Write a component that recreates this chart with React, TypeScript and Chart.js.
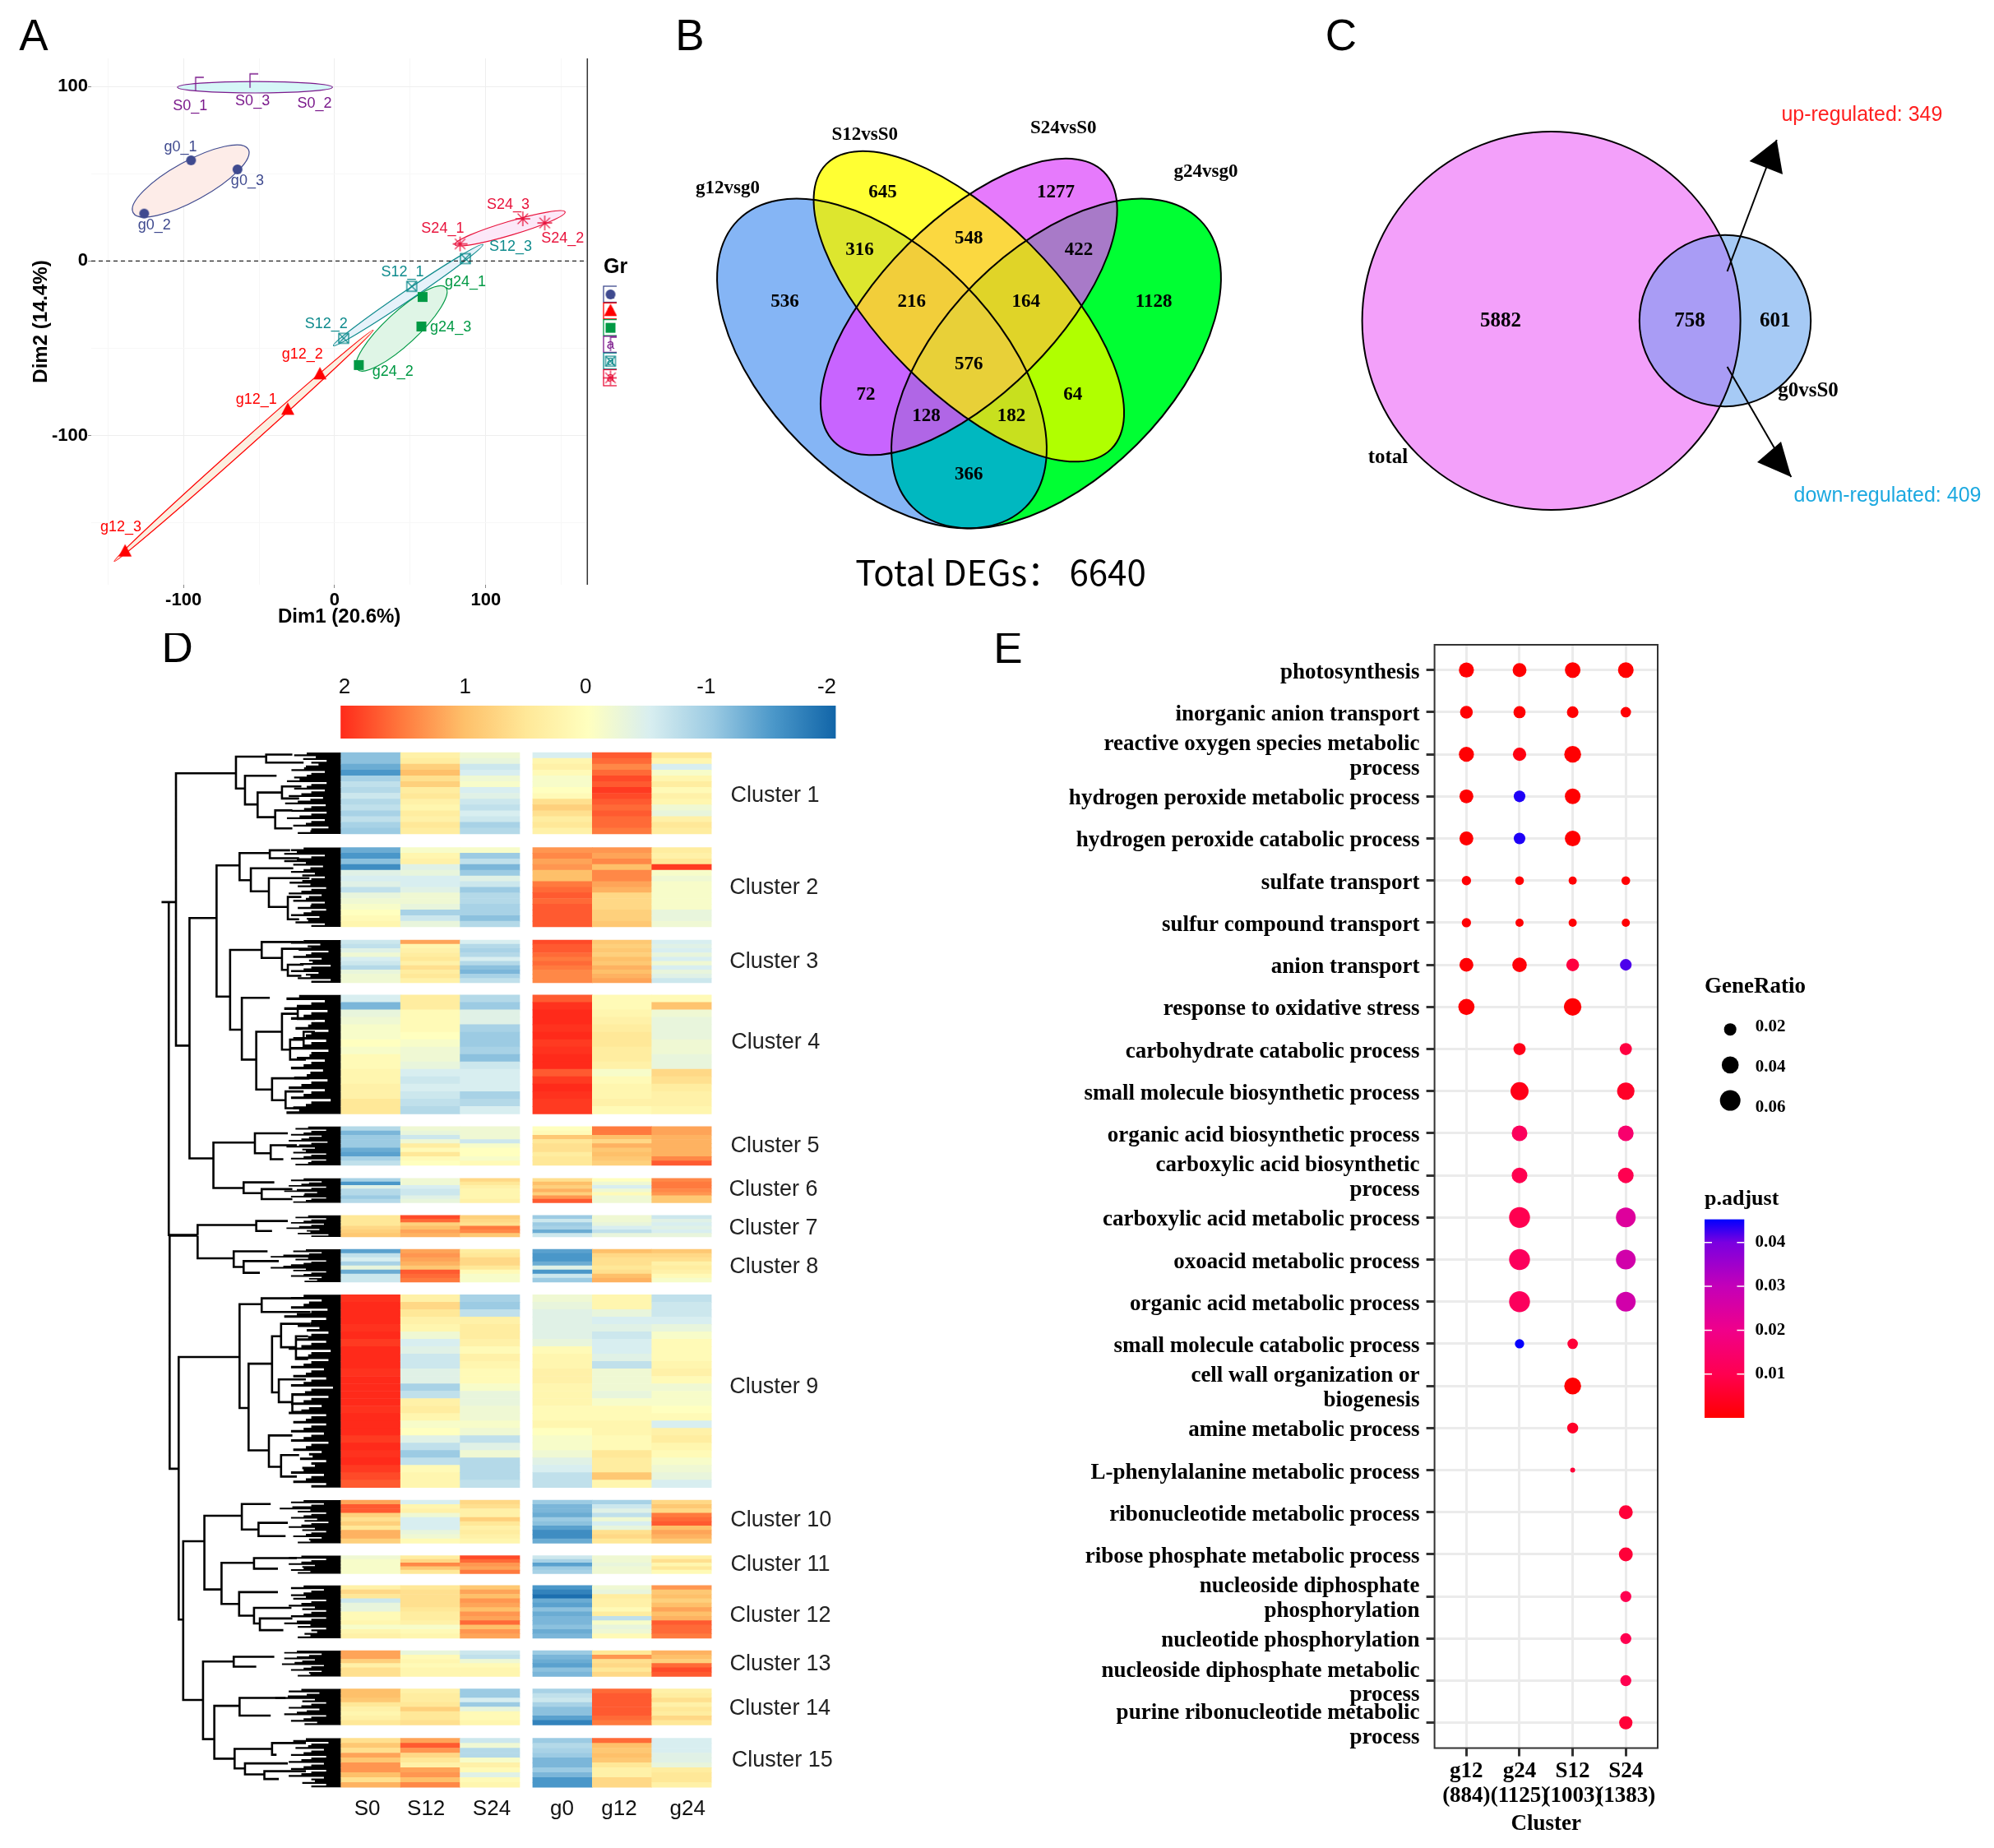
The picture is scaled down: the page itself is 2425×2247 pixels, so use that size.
import React, { useEffect, useRef } from 'react';
import { Chart, registerables } from 'chart.js';
Chart.register(...registerables);

const SANS = '"Liberation Sans"';
const SERIF = '"Liberation Serif"';

/* ---------- Panel A: PCA ---------- */
const g0Points = [[-95, 57.7], [-126, 27.2], [-64.3, 52.5]];
const g12Points = [[-31, -85.3], [-9.7, -65], [-138.6, -166.5]];
const g24Points = [[58.2, -20.6], [16, -59.6], [57.4, -37.5]];
const s0Points = [[-92, 101], [-8, 100], [-56, 103]];
const s12Points = [[51, -14.5], [6, -44.3], [86.5, 1.4]];
const s24Points = [[83, 9.8], [139, 21.8], [124.5, 24.2]];
const g0LabelAt = [[-102, 65.2], [-119.2, 20.2], [-57.7, 45.7]];
const g12LabelAt = [[-51.8, -79.3], [-21.3, -53.5], [-141.4, -152.4]];
const g24LabelAt = [[86.5, -12.2], [38.5, -63.3], [76.8, -38]];
const s0LabelAt = [[-95.6, 88.9], [-13.3, 90.3], [-54.3, 91.4]];
const s12LabelAt = [[44.9, -6.3], [-5.5, -35.9], [116.4, 8.2]];
const s24LabelAt = [[71.5, 18.5], [150.8, 12.9], [114.8, 32.4]];
const pcaGroupNames = ['g0', 'g12', 'g24', 'S0', 'S12', 'S24'];
const pcaPoints = [g0Points, g12Points, g24Points, s0Points, s12Points, s24Points];
const pcaLabelAt = [g0LabelAt, g12LabelAt, g24LabelAt, s0LabelAt, s12LabelAt, s24LabelAt];
const pcaColors = ['#3F4A8F', '#FF0000', '#009944', '#7B1A8C', '#0F8B8D', '#E8133C'];
const pcaFills = ['#FDECE8', '#FBEFE0', '#DFF5E6', '#D5F7F7', '#E6F2FA', '#FCE8F8'];
// ellipse: long-axis ends [x1,y1,x2,y2] in data units, and minor/major ratio
const pcaEllipseEnds = [
  [-133.3, 27.7, -57.1, 64], [-145.8, -172.1, 25.5, -39.6], [15, -62.1, 73.5, -15.2],
  [-104, 99.6, -1.4, 99.6], [-0.8, -48.5, 98.1, 9.4], [79.6, 9.4, 152.5, 28.1],
];
const pcaEllipseRatio = [0.3, 0.024, 0.27, 0.074, 0.055, 0.12];

/* ---------- Panels B and C: Venn ---------- */
const vennBShapes = [
  { cx: 1072.5, cy: 442, a: 247, b: 139, deg: 45 },
  { cx: 1178.3, cy: 372.6, a: 245, b: 106, deg: 45 },
  { cx: 1178.3, cy: 373, a: 232, b: 106, deg: -45 },
  { cx: 1284.5, cy: 442, a: 247, b: 139, deg: -45 },
];
const vennBRegionColors: Record<number, string> = {
  1: '#85B5F5', 2: '#FFFF33', 4: '#E67AFC', 8: '#00FF33', 3: '#DDE62E', 6: '#FBD840', 12: '#A87AC8',
  7: '#F2CE3A', 14: '#E0D428', 15: '#E8D038', 5: '#C864FF', 10: '#B0FF00', 13: '#B066E6', 11: '#C8E01E', 9: '#00B8C0',
};
const vennBCounts = ['536', '645', '1277', '1128', '316', '548', '422', '216', '164', '576', '72', '64', '128', '182', '366'];
const vennBCountX = [954.4, 1073.6, 1284, 1403.2, 1045.6, 1178.3, 1312, 1108.8, 1247.7, 1178.3, 1052.9, 1304.7, 1126.5, 1230, 1178.3];
const vennBCountY = [367, 234, 234, 367, 304, 290, 304, 367, 367, 443.5, 480, 480, 506.5, 506.5, 577];
const vennCShapes = [
  { cx: 1886.6, cy: 390, a: 230, b: 230, deg: 0 },
  { cx: 2098, cy: 390, a: 104.2, b: 104.2, deg: 0 },
];
const vennCRegionColors: Record<number, string> = { 1: '#F3A0FA', 2: '#A6CAF5', 3: '#A99CF5' };
const vennCCounts = ['5882', '758', '601'];
const vennCCountX = [1825, 2055, 2158.7];
const vennCCountY = [391, 391, 391];
const arrowShafts = [[2100.6, 330, 2160.8, 170], [2100.6, 446, 2178.4, 580]];
const arrowHeads = [[2160.8, 170, 2127.6, 196, 2168, 212], [2178.4, 580, 2137, 562, 2166, 537]];

/* ---------- Panel D: heatmap ---------- */
const heatColumns = ['S0', 'S12', 'S24', 'g0', 'g12', 'g24'];
const heatColumnX = [0.5, 1.5, 2.5, 3.72, 4.72, 5.72];
const heatColumnLabelX = [0.439, 1.428, 2.53, 3.71, 4.67, 5.82];
const clusterTop = [915, 1030.5, 1143, 1209.8, 1369.8, 1432.8, 1477.9, 1519, 1574.3, 1824, 1891.6, 1927.8, 2007, 2053.6, 2113.6];
const clusterBottom = [1014, 1127, 1194.8, 1354.3, 1416.8, 1462.4, 1504, 1559, 1808.7, 1876.4, 1913.5, 1992, 2038.4, 2097.4, 2173.2];
const clusterLabelX = [7.29, 7.27, 7.27, 7.30, 7.29, 7.26, 7.26, 7.27, 7.27, 7.39, 7.38, 7.38, 7.38, 7.37, 7.41];
const clusterLabelY = [967.5, 1080, 1169.6, 1268, 1394, 1446.4, 1493.4, 1540.5, 1687, 1849, 1902.6, 1964.5, 2024, 2078, 2141];
const heatS0 = [
  [-1.1, -1.1, -1.3, -1.5, -0.9, -0.7, -0.8, -0.6, -0.8, -0.7, -0.9, -0.7, -0.9, -1.0],
  [-1.3, -1.5, -1.1, -1.6, -0.4, -0.5, -0.4, -0.7, -0.3, -0.2, -0.1, 0, 0.1, 0.2],
  [-0.6, -0.7, -0.4, -0.2, -0.5, -0.6, -0.8, -0.3, -0.2, -0.2],
  [-0.5, -1.2, -0.3, -0.2, -0.1, -0.1, 0, -0.1, 0.1, 0.1, 0.2, 0.2, 0.3, 0.3, 0.5, 0.5],
  [-0.8, -1.2, -1, -1, -1, -1.3, -1.4, -0.9, -0.7],
  [-0.9, -1.5, -0.4, -0.8, -0.8, -1, -0.8],
  [0.5, 0.5, 0.5, 0.7, 0.8, 0.9],
  [-1.4, -0.7, -0.5, -0.9, -0.3, -1.3, -0.6, -0.6],
  [1.95, 2, 2, 2, 1.95, 2, 1.9, 2, 2, 2, 1.95, 2, 2, 2, 2, 1.95, 2, 2, 2, 1.9, 2, 1.95, 2, 1.9, 1.8, 1.7],
  [1.2, 1.7, 1.7, 0.8, 0.6, 0.8, 0.5, 1.1, 1.1, 0.8],
  [-0.2, -0.1, -0.1, -0.1, -0.1],
  [0.3, 0.7, 0.5, -0.6, -0.3, -0.3, 0.1, 0.1, 0.2, -0.1, 0.2, 0.3],
  [1.2, 1.2, 0.8, 0.3, 0.6, 0.6],
  [1, 1, 0.9, 0.5, 0.3, 0.2, 0.3, 0.5],
  [0.6, 0.9, 0.6, 1.2, 0.9, 1.3, 1.3, 1.0, 0.6, 1.1],
];
const heatS12 = [
  [0.3, 0.4, 0.8, 1.0, 0.6, 0.8, 0.4, 0.5, 0.3, 0.2, 0.4, 0.3, 0.5, 0.4],
  [-0.1, 0.2, 0.3, -0.4, -0.3, -0.5, -0.5, -0.4, -0.2, -0.2, -0.3, -0.9, -0.6, -0.3],
  [1.2, 0.2, 0.3, 0.4, 0.5, 0.3, 0.6, 0.4, 0.5, 0.3],
  [0.4, 0.4, 0.1, 0.1, 0.1, 0, -0.1, -0.2, -0.2, -0.3, -0.5, -0.6, -0.5, -0.6, -0.7, -0.8],
  [-0.2, -0.3, -0.6, -0.2, 0.4, 0.1, 0.5, 0.1, 0],
  [-0.2, -0.2, -0.5, -0.6, -0.6, -0.4, -0.3],
  [1.8, 1.6, 0.8, 1.0, 1.2, 1.1],
  [1.2, 1.3, 1.2, 1.1, 0.9, 1.7, 1.6, 1.5],
  [0.3, 0.7, 0.5, 0.3, 0.2, -0.2, -0.5, -0.4, -0.6, -0.6, -0.4, -0.4, -0.9, -0.7, 0.3, 0.4, 0.2, -0.1, 0, -0.4, -0.7, -1, -0.7, 0.1, 0.2, 0.2],
  [-0.5, 0.2, 0.3, -0.2, -0.5, -0.5, -0.5, -0.3, -0.2, 0.1],
  [0.4, 0.7, 1.4, 0.9, 0.5],
  [0.5, 0.6, 0.6, 0.6, 0.6, 0.5, 0.4, 0.4, 0.3, -0.1, 0.1, 0.2],
  [-0.3, 0.1, 0.2, 0.1, 0.2, 0.2],
  [0.3, 0.4, 0.4, 0.5, 0.8, 0.5, 0.5, 0.6],
  [1.2, 1.7, 1.3, 0.7, 0.5, 0.3, 1.2, 1.3, 1, 1.4],
];
const heatS24 = [
  [-0.2, -0.3, -0.6, -0.5, -0.2, -0.1, -0.5, -0.4, -0.6, -0.7, -0.5, -0.6, -0.9, -0.8],
  [-0.1, -1, -0.7, -1.2, -1, -0.4, -0.6, -1, -0.8, -0.8, -0.9, -0.9, -1.1, -0.8],
  [-0.5, -0.8, -0.9, -0.8, -0.5, -0.8, -1.1, -1.2, -0.9, -0.7],
  [-0.8, -1, -0.4, -0.4, -0.9, -1, -1, -0.9, -1.1, -0.6, -0.5, -0.5, -0.5, -0.9, -0.8, -0.5],
  [-0.2, -0.2, -0.2, -0.6, -0.1, 0, 0, -0.1, 0.1],
  [0.7, 0.5, 0.3, 0.2, 0.2, 0.2, 0.3],
  [0.8, 0.7, 0.6, 1.5, 1.4, 0.9],
  [0.4, 0.5, 0.7, 0.7, 0.5, 0.1, -0.1, -0.1],
  [-0.9, -1, -0.7, 0.3, 0.4, 0.4, 0.3, 0.1, 0.3, 0.2, 0.1, 0.1, -0.1, -0.3, -0.3, -0.2, -0.2, -0.1, -0.2, -0.7, -0.4, -0.2, -0.8, -0.8, -0.8, -0.7],
  [0.7, 0.6, 0.3, 0.3, 0.8, 0.5, 0.3, 0.4, 0.3, 0.2],
  [1.8, 1.6, 1.3, 1.2, 1.5],
  [0.9, 1.2, 1, 1.3, 1.2, 1.0, 1.3, 1.2, 1.6, 1, 1.3, 1.2],
  [-0.6, -0.7, -0.2, 0.1, 0.2, 0.2],
  [-1, -1, -0.5, -1, -0.3, 0.1, 0.1, 0.2],
  [-0.6, -0.2, -0.8, -0.8, -0.1, 0.3, 0.1, -0.4, 0.1, 0.2],
];
const heatG0 = [
  [-0.5, 0.2, 0.3, 0.1, -0.1, -0.1, 0.0, 0.1, 0.6, 0.8, 0.6, 0.4, 0.5, 0.3],
  [1.3, 1.4, 1.2, 1.3, 1, 1, 1.5, 1.6, 1.7, 1.6, 1.7, 1.7, 1.7, 1.7],
  [1.8, 1.7, 1.7, 1.6, 1.5, 1.6, 1.5, 1.4, 1.4, 1.4],
  [1.7, 1.95, 2, 2, 1.95, 2, 1.9, 1.95, 2, 2, 1.7, 1.9, 2, 1.95, 1.9, 1.9],
  [0, 0.1, 0.9, 0.5, 0.6, 0.6, 0.4, 0.5, 0.5],
  [0.6, 1, 0.8, 1.1, 0.8, 1.3, 1.7],
  [-1, -0.6, -1, -0.9, -1.3, -0.6],
  [-1.4, -1.5, -1.5, -1.3, -0.4, -1.5, -0.6, -1],
  [-0.2, -0.3, -0.4, -0.4, -0.4, -0.4, -0.3, 0.1, 0.2, 0.2, 0.3, 0.3, 0.2, 0.2, 0.2, 0.1, 0.1, 0.2, 0, -0.1, -0.1, -0.2, -0.4, -0.5, -0.7, -0.7],
  [-1, -1.2, -1.2, -1.3, -1, -1.1, -1.4, -1.6, -1.6, -1.3],
  [-0.6, -0.9, -1.4, -1, -0.9],
  [-1.5, -1.7, -1.9, -1.3, -1.4, -1.1, -1.3, -1.2, -1.2, -1.1, -1.3, -1.2],
  [-1, -1.2, -1.3, -1.4, -1.1, -1.2],
  [-0.9, -0.7, -0.6, -0.9, -1.1, -1.1, -1.4, -1.7],
  [-1, -0.8, -0.9, -1, -1.2, -1.2, -1, -1.2, -1.5, -1.5],
];
const heatG12 = [
  [1.7, 1.6, 1.4, 1.6, 1.8, 1.7, 1.9, 1.8, 1.7, 1.6, 1.7, 1.6, 1.6, 1.5],
  [1.3, 1.2, 1.4, 1, 1.4, 1.4, 1.2, 1.1, 0.7, 0.7, 0.7, 0.8, 0.8, 0.9],
  [0.9, 0.8, 0.9, 0.8, 1.0, 0.9, 1.1, 1, 1.1, 1.2],
  [0.1, 0.1, 0.2, 0.3, 0.4, 0.5, 0.5, 0.4, 0.4, 0.3, -0.1, 0.1, 0.2, 0.2, 0.3, 0.1],
  [1.5, 1.5, 1, 0.7, 1.1, 0.9, 1, 0.9, 0.8],
  [0, -0.2, -0.5, -0.2, 0.1, -0.2, -0.2],
  [-0.2, -0.2, -0.3, -0.5, -0.7, -0.3],
  [1.0, 0.7, 0.6, 0.6, 0.5, 0.6, 1, 1.1],
  [0.2, 0.2, -0.3, -0.5, -0.4, -0.6, -0.5, -0.5, -0.4, -0.7, -0.2, -0.2, -0.2, -0.3, -0.1, 0.1, 0.1, 0.2, 0.2, 0.1, 0.1, 0.5, 0.4, 0.4, 0.9, 0.2],
  [-0.9, -0.6, -0.4, -0.7, -0.2, -0.5, -0.3, 0.6, 0.7, 0.5],
  [-0.2, -0.2, -0.3, -0.2, -0.2],
  [-0.2, -0.3, 0.4, 0.3, 0.3, 0.1, 0.4, -0.7, -0.1, -0.3, -0.2, 0.1],
  [0.5, 1.3, 0.6, 0.7, 0.5, 0.7],
  [1.6, 1.7, 1.7, 1.7, 1.7, 1.7, 1.6, 1.5],
  [1.6, 1, 0.9, 1.0, 0.9, 0.5, 0.3, 0.3, 0.7, 0.7],
];
const heatG24 = [
  [0.5, 0.2, -0.5, -0.1, 0.2, 0.4, 0.1, 0.3, 0.2, -0.2, -0.3, 0.3, 0.5, 0.4],
  [0.4, 0.3, 0.5, 1.9, -0.1, -0.2, -0.1, -0.1, -0.1, -0.1, -0.1, -0.3, -0.3, -0.2],
  [-0.5, -0.4, -0.5, -0.3, -0.5, -0.2, -0.5, -0.3, -0.4, -0.6],
  [0.1, 0.95, -0.2, -0.3, -0.3, -0.3, -0.2, -0.2, -0.3, -0.3, 0.7, 0.6, 0.4, 0.3, 0.3, 0.2],
  [1.2, 1.2, 1.1, 1.1, 1.1, 1.1, 1.1, 1.4, 1.7],
  [1.4, 1.5, 1.5, 1.4, 1.3, 0.9, 0.9],
  [-0.6, -0.4, -0.5, -0.4, -0.5, -0.3],
  [0.9, 0.7, 0.6, 0.3, 0.4, 0.3, 0.1, -0.1],
  [-0.7, -0.6, -0.6, -0.5, -0.3, -0.1, 0.1, 0.1, 0.1, 0.2, 0.3, 0.1, -0.2, -0.1, -0.1, 0, 0.1, -0.5, 0.3, 0.4, 0.2, 0.1, -0.1, -0.2, -0.3, -0.5],
  [0.7, 0.9, 0.7, 1.5, 1.6, 1.7, 1, 1.2, 1.1, 0.9],
  [0.3, 0.6, 0.2, 0.5, 0.1],
  [1.3, 0.9, 1, 0.8, 1, 1.2, 1, 1.1, 1.7, 1.6, 1.6, 1.5],
  [1.1, 1, 0.8, 1.6, 1.8, 1.7],
  [0.3, 0.4, 0.6, 0.3, 0.5, 0.4, 0.7, 0.5],
  [-0.5, -0.5, -0.5, -0.4, -0.4, -0.3, 0.4, 0.5, 0.5, 0.3],
];
const heatTable = [heatS0, heatS12, heatS24, heatG0, heatG12, heatG24];
const zStops: [number, string][] = [
  [-2, '#1165A8'], [-1.5, '#4A97C9'], [-1, '#9CCBE3'], [-0.5, '#D8EEF0'], [0, '#FFFFBF'],
  [0.5, '#FFE898'], [1, '#FEC06A'], [1.5, '#FF7A3E'], [2, '#FF2A1A'],
];
// dendrogram brackets [nodeHeight, y1, childHeight1, y2, childHeight2]
const dendroUpper = [
  [62, 372, 195, 1055, 92], [92, 735, 152, 1338, 145], [152, 603, 203, 932, 182], [182, 815, 252, 1015, 208], [145, 1298, 237, 1412, 212],
  [195, 330, 262, 410, 215], [215, 378, 285, 450, 243], [243, 420, 297, 482, 282], [282, 465, 320, 510, 320], [262, 325, 320, 345, 345], [297, 405, 340, 435, 335],
  [203, 572, 270, 640, 228], [228, 610, 322, 668, 268], [268, 635, 358, 707, 310], [310, 682, 340, 738, 335], [270, 565, 315, 585, 335],
  [252, 795, 345, 835, 297], [297, 812, 365, 865, 310], [310, 852, 345, 880, 340],
  [208, 935, 270, 1090, 240], [240, 1020, 297, 1165, 275], [297, 975, 332, 1065, 315], [332, 960, 370, 988, 370], [315, 1040, 345, 1090, 350], [345, 1020, 370, 1060, 375], [275, 1137, 358, 1192, 305], [305, 1170, 345, 1212, 335],
  [237, 1275, 310, 1325, 272], [272, 1305, 330, 1340, 300],
  [212, 1398, 280, 1425, 252], [252, 1415, 320, 1440, 320],
  [240, 1495, 310, 1520, 275],
];
const dendroLower = [
  [110, 5, 110, 63, 190], [48, 5, 110, 600, 68], [68, 315, 203, 985, 78], [78, 785, 125, 1190, 122], [125, 720, 208, 908, 163], [163, 840, 235, 945, 202], [122, 1092, 190, 1290, 147], [147, 1205, 203, 1340, 192],
  [190, 45, 265, 85, 212], [212, 70, 290, 100, 248],
  [203, 180, 252, 445, 223], [252, 165, 325, 200, 360], [223, 332, 275, 553, 268], [275, 262, 295, 405, 290], [295, 230, 360, 290, 328], [328, 262, 355, 320, 355], [290, 372, 350, 430, 320], [320, 410, 375, 455, 345], [268, 515, 320, 595, 295], [295, 565, 335, 620, 330],
  [208, 690, 272, 755, 245], [245, 738, 310, 772, 305],
  [235, 828, 330, 855, 288],
  [202, 915, 288, 975, 235], [235, 955, 318, 995, 248], [248, 982, 320, 1012, 300],
  [190, 1080, 280, 1105, 240],
  [203, 1185, 305, 1230, 272],
  [192, 1315, 275, 1365, 215], [275, 1300, 350, 1330, 285], [215, 1352, 310, 1380, 258], [258, 1372, 350, 1392, 290],
];
const dendroRoot = [[46, 695, 62, 1530, 110], [110, 1505, 240, 1530, 110]];
const dendroRootStub = [[30, 695, 46]];
// heights where the leaf mass begins, row by row, cluster by cluster
const leafEdges = [
  [352, 372, 396, 378, 346, 392, 352, 336, 396, 352, 392, 340, 388, 332, 394, 346, 396, 336, 392, 350, 400, 360],
  [345, 330, 392, 330, 350, 388, 345, 370, 392, 342, 360, 395, 340, 385, 350, 392, 360, 395, 345, 380, 355, 392],
  [345, 382, 362, 400, 350, 385, 365, 405, 345, 378, 360, 405],
  [335, 392, 330, 398, 345, 392, 355, 400, 350, 395, 345, 400, 358, 392, 345, 388, 352, 398, 340, 392, 345, 405, 350, 335],
  [355, 395, 345, 385, 340, 398, 335, 370, 350, 395, 345, 395, 355],
  [345, 385, 340, 395, 330, 375, 345, 395, 350],
  [355, 395, 345, 390, 335, 380, 360, 400],
  [350, 385, 300, 355, 395, 345, 300, 350, 395, 345, 385, 375],
  [345, 385, 345, 398, 330, 395, 360, 380, 400, 355, 395, 340, 405, 355, 400, 345, 390, 350, 395, 345, 410, 348, 400, 345, 385, 340, 395, 350, 395, 345, 390, 345, 400, 350, 385, 365, 395, 370, 345, 390, 350, 395],
  [345, 390, 320, 360, 395, 345, 375, 400, 340, 370, 395, 350, 385, 360],
  [340, 395, 340, 370, 345, 360],
  [345, 390, 345, 350, 395, 340, 370, 395, 345, 395, 330, 360, 395, 375, 360],
  [330, 385, 330, 370, 325, 390, 345, 385, 360],
  [340, 380, 310, 370, 395, 340, 380, 330, 395, 345, 375],
  [350, 400, 355, 390, 345, 395, 340, 390, 345, 395, 340, 390, 370, 395],
];

/* ---------- Panel E: dot plot ---------- */
const goTerms: (string | string[])[] = [
  'photosynthesis', 'inorganic anion transport', ['reactive oxygen species metabolic', 'process'],
  'hydrogen peroxide metabolic process', 'hydrogen peroxide catabolic process', 'sulfate transport',
  'sulfur compound transport', 'anion transport', 'response to oxidative stress', 'carbohydrate catabolic process',
  'small molecule biosynthetic process', 'organic acid biosynthetic process', ['carboxylic acid biosynthetic', 'process'],
  'carboxylic acid metabolic process', 'oxoacid metabolic process', 'organic acid metabolic process',
  'small molecule catabolic process', ['cell wall organization or', 'biogenesis'], 'amine metabolic process',
  'L-phenylalanine metabolic process', 'ribonucleotide metabolic process', 'ribose phosphate metabolic process',
  ['nucleoside diphosphate', 'phosphorylation'], 'nucleotide phosphorylation', ['nucleoside diphosphate metabolic', 'process'],
  ['purine ribonucleotide metabolic', 'process'],
];
const clusterTicks = [['g12', '(884)'], ['g24', '(1125)'], ['S12', '(1003)'], ['S24', '(1383)']];
const N = null;
const ratioG12 = [.031, .0215, .031, .026, .026, .0103, .0103, .026, .0363, N, N, N, N, N, N, N, N, N, N, N, N, N, N, N, N, N];
const ratioG24 = [.026, .0194, .0237, .0174, .0174, .0087, .0073, .0285, N, .0194, .0455, .0336, .0336, .062, .062, .062, .0103, N, N, N, N, N, N, N, N, N];
const ratioS12 = [.0336, .0174, .0395, .0336, .0336, .0073, .0073, .0215, .0424, N, N, N, N, N, N, N, .0136, .0395, .0155, .001, N, N, N, N, N, N];
const ratioS24 = [.0336, .0136, N, N, N, .0087, .0073, .0174, N, .0194, .0424, .0336, .0336, .055, .055, .055, N, N, N, N, .026, .026, .0155, .0155, .0155, .0237];
const padjG12 = [.0003, .0003, .0003, .0003, .0003, .0005, .0005, .0005, .0005, N, N, N, N, N, N, N, N, N, N, N, N, N, N, N, N, N];
const padjG24 = [.0003, .0003, .002, .044, .044, .0005, .0005, .001, N, .003, .003, .012, .01, .01, .012, .012, .045, N, N, N, N, N, N, N, N, N];
const padjS12 = [.0003, .0003, .0003, .0003, .0003, .0005, .0005, .008, .0005, N, N, N, N, N, N, N, .007, .0003, .005, .007, N, N, N, N, N, N];
const padjS24 = [.0003, .0005, N, N, N, .0005, .0005, .042, N, .008, .005, .015, .01, .024, .027, .027, N, N, N, N, .007, .007, .01, .01, .01, .007];
const ratioTable = [ratioG12, ratioG24, ratioS12, ratioS24];
const padjTable = [padjG12, padjG24, padjS12, padjS24];
const ratioLegend = [0.02, 0.04, 0.06];
const padjStops: [number, string][] = [
  [0, '#FF0000'], [0.01, '#FF0050'], [0.02, '#F0008A'], [0.03, '#C400B8'], [0.04, '#7A00E0'], [0.0453, '#0000FF'],
];

/* ---------- helpers ---------- */
const hexToRgb = (h: string) => [parseInt(h.slice(1, 3), 16), parseInt(h.slice(3, 5), 16), parseInt(h.slice(5, 7), 16)];
function rampColor(stops: [number, string][], v: number) {
  if (v <= stops[0][0]) return stops[0][1];
  for (let i = 1; i < stops.length; i++) {
    if (v <= stops[i][0]) {
      const t = (v - stops[i - 1][0]) / (stops[i][0] - stops[i - 1][0]);
      const a = hexToRgb(stops[i - 1][1]);
      const b = hexToRgb(stops[i][1]);
      return `rgb(${a.map((c, k) => Math.round(c + (b[k] - c) * t)).join(',')})`;
    }
  }
  return stops[stops.length - 1][1];
}
const ratioRadius = (r: number) => Math.sqrt(25 + 10000 * r) / 2;
const fixW = (w: number) => (s: any) => { s.width = w; s.paddingTop = 0; s.paddingBottom = 0; };
const fixH = (h: number) => (s: any) => { s.height = h; s.paddingLeft = 0; s.paddingRight = 0; };

type TextItem = { t: string; x: number; y: number; f: string; c?: string; a?: CanvasTextAlign };
function textPlugin(items: TextItem[], xId?: string, yId?: string, left = 0, top = 0) {
  return {
    id: 'pageText',
    afterDatasetsDraw(chart: any) {
      const ctx = chart.ctx;
      ctx.save();
      ctx.textBaseline = 'middle';
      for (const it of items) {
        const px = xId ? chart.scales[xId].getPixelForValue(it.x) : it.x - left;
        const py = yId ? chart.scales[yId].getPixelForValue(it.y) : it.y - top;
        ctx.font = it.f;
        ctx.fillStyle = it.c || '#000';
        ctx.textAlign = it.a || 'center';
        ctx.fillText(it.t, px, py);
      }
      ctx.restore();
    },
  };
}

function markerCanvas(group: string, color: string) {
  const c = document.createElement('canvas');
  c.width = 28; c.height = 28;
  const x = c.getContext('2d') as CanvasRenderingContext2D;
  x.translate(14, 14);
  x.fillStyle = color; x.strokeStyle = color; x.lineWidth = 1.3;
  if (group === 'g0') { x.beginPath(); x.arc(0, 0, 6, 0, Math.PI * 2); x.fill(); }
  if (group === 'g12') { x.beginPath(); x.moveTo(0, -9); x.lineTo(8, 6); x.lineTo(-8, 6); x.closePath(); x.fill(); }
  if (group === 'g24') { x.fillRect(-6, -6, 12, 12); }
  if (group === 'S0') { x.beginPath(); x.moveTo(0, 8); x.lineTo(0, -9); x.lineTo(10, -9); x.stroke(); }
  if (group === 'S12') {
    x.strokeRect(-6, -6, 12, 12);
    x.beginPath(); x.moveTo(-6, -6); x.lineTo(6, 6); x.moveTo(6, -6); x.lineTo(-6, 6); x.stroke();
  }
  if (group === 'S24') {
    x.beginPath();
    for (let i = 0; i < 4; i++) {
      const a = i * Math.PI / 4;
      x.moveTo(-9 * Math.cos(a), -9 * Math.sin(a)); x.lineTo(9 * Math.cos(a), 9 * Math.sin(a));
    }
    x.stroke();
  }
  return c;
}

function ChartBox({ left, top, width, height, make }: any) {
  const ref = useRef<HTMLCanvasElement>(null);
  useEffect(() => {
    const chart = new Chart(ref.current as any, make());
    return () => chart.destroy();
  }, []);
  return <canvas ref={ref} width={width} height={height} style={{ position: 'absolute', left, top, width, height }} />;
}
const base = { responsive: false, devicePixelRatio: 1, animation: false, events: [] as string[] };

/* ---------- Panel A ---------- */
function makePca() {
  const markers = pcaGroupNames.map((g, i) => markerCanvas(g, pcaColors[i]));
  const labels: TextItem[] = [];
  pcaGroupNames.forEach((g, i) => pcaLabelAt[i].forEach((p, k) => labels.push({
    t: `${g}_${k + 1}`, x: p[0], y: p[1], f: `18px ${SANS}`, c: pcaColors[i],
  })));
  const ellipses = {
    id: 'pcaEllipses',
    beforeDatasetsDraw(chart: any) {
      const { x, y } = chart.scales;
      const ctx = chart.ctx;
      pcaEllipseEnds.forEach((e, i) => {
        const x1 = x.getPixelForValue(e[0]), y1 = y.getPixelForValue(e[1]);
        const x2 = x.getPixelForValue(e[2]), y2 = y.getPixelForValue(e[3]);
        const major = Math.hypot(x2 - x1, y2 - y1) / 2;
        ctx.beginPath();
        ctx.ellipse((x1 + x2) / 2, (y1 + y2) / 2, major, major * pcaEllipseRatio[i], Math.atan2(y2 - y1, x2 - x1), 0, Math.PI * 2);
        ctx.fillStyle = pcaFills[i]; ctx.fill();
        ctx.strokeStyle = pcaColors[i]; ctx.lineWidth = 1.2; ctx.stroke();
      });
    },
  };
  const furniture = {
    id: 'pcaFurniture',
    afterDatasetsDraw(chart: any) {
      const ctx = chart.ctx; const a = chart.chartArea;
      ctx.save();
      ctx.strokeStyle = '#333'; ctx.lineWidth = 1.5;
      ctx.beginPath(); ctx.moveTo(a.right, a.top); ctx.lineTo(a.right, a.bottom); ctx.stroke();
      // clipped legend
      ctx.save();
      ctx.beginPath(); ctx.rect(725, 300, 39, 42); ctx.clip();
      ctx.font = `bold 25px ${SANS}`; ctx.fillStyle = '#000'; ctx.textBaseline = 'middle'; ctx.textAlign = 'left';
      ctx.fillText('Group', 734, 325);
      ctx.restore();
      ctx.save();
      ctx.beginPath(); ctx.rect(725, 340, 25, 135); ctx.clip();
      pcaGroupNames.forEach((g, i) => {
        const ky = 348 + i * 20.3;
        ctx.strokeStyle = pcaColors[i]; ctx.lineWidth = 1.3;
        ctx.strokeRect(734, ky, 22, 19.5);
        ctx.font = `17px ${SANS}`; ctx.fillStyle = pcaColors[i]; ctx.textAlign = 'center'; ctx.textBaseline = 'middle';
        ctx.fillText('a', 742.5, ky + 10);
        ctx.drawImage(markers[i], 728.5, ky - 4);
      });
      ctx.restore();
      ctx.restore();
    },
  };
  const tickFont = { family: SANS, size: 22, weight: 'bold' as const };
  const grid = {
    color: (c: any) => (c.tick.value % 100 === 0 ? '#EEEEEE' : c.tick.value % 50 === 0 ? '#F7F7F7' : 'transparent'),
    tickColor: (c: any) => (c.tick.value % 100 === 0 ? '#888' : 'transparent'),
    tickLength: 4,
  };
  const lab = (v: any) => (v % 100 === 0 ? String(v) : '');
  return {
    type: 'scatter',
    data: {
      datasets: [
        { data: [{ x: -161, y: 0 }, { x: 167.2, y: 0 }], showLine: true, pointRadius: 0, borderColor: '#222', borderWidth: 1.2, borderDash: [5, 4] },
        ...pcaGroupNames.map((g, i) => ({
          label: g,
          data: pcaPoints[i].map((p) => ({ x: p[0], y: p[1] })),
          pointStyle: markers[i], pointRadius: g === 'S0' ? [9, 0, 9] : 9, backgroundColor: pcaColors[i], borderColor: pcaColors[i],
        })),
      ],
    },
    options: {
      ...base,
      layout: { padding: { top: 71, right: 85.7, left: 0, bottom: 0 } },
      plugins: { legend: { display: false }, tooltip: { enabled: false } },
      scales: {
        x: {
          type: 'linear', min: -161, max: 167.2, grid, border: { display: false },
          ticks: { stepSize: 25, includeBounds: false, callback: lab, font: tickFont, color: '#000', padding: 2, maxRotation: 0, autoSkip: false },
          title: { display: true, text: 'Dim1 (20.6%)', font: { family: SANS, size: 24, weight: 'bold' }, color: '#000', padding: { top: 0, bottom: 15.6 } },
          afterFit: fixH(69),
        },
        y: {
          type: 'linear', min: -185.5, max: 116.1, grid, border: { display: false },
          ticks: { stepSize: 25, includeBounds: false, callback: lab, font: tickFont, color: '#000', padding: 0, autoSkip: false },
          title: { display: true, text: 'Dim2 (14.4%)', font: { family: SANS, size: 24, weight: 'bold' }, color: '#000', padding: { top: 35.6, bottom: 0 } },
          afterFit: fixW(111),
        },
      },
    },
    plugins: [ellipses, furniture, textPlugin(labels, 'x', 'y'), textPlugin([{ t: 'A', x: 41, y: 46, f: `53px ${SANS}` }])],
  };
}

/* ---------- Panels B and C ---------- */
function makeVenn() {
  const L = 800;
  const drawSets = (chart: any, shapes: any[], colors: Record<number, string>) => {
    const { x, y } = chart.scales;
    const ctx = chart.ctx;
    const path = (s: any) => ctx.ellipse(x.getPixelForValue(s.cx), y.getPixelForValue(s.cy), s.a, s.b, s.deg * Math.PI / 180, 0, Math.PI * 2);
    for (const key of Object.keys(colors)) {
      const mask = Number(key);
      ctx.save();
      shapes.forEach((s, i) => {
        ctx.beginPath();
        if (mask & (1 << i)) { path(s); ctx.clip(); } else { ctx.rect(0, 0, chart.width, chart.height); path(s); ctx.clip('evenodd'); }
      });
      ctx.fillStyle = colors[mask];
      ctx.fillRect(0, 0, chart.width, chart.height);
      ctx.restore();
    }
    ctx.strokeStyle = '#000'; ctx.lineWidth = 2;
    shapes.forEach((s) => { ctx.beginPath(); path(s); ctx.stroke(); });
  };
  const sets = {
    id: 'vennSets',
    beforeDatasetsDraw(chart: any) {
      drawSets(chart, vennBShapes, vennBRegionColors);
      drawSets(chart, vennCShapes, vennCRegionColors);
    },
  };
  const heads = {
    id: 'arrowHeads',
    afterDatasetsDraw(chart: any) {
      const { x, y } = chart.scales; const ctx = chart.ctx;
      ctx.fillStyle = '#000';
      for (const h of arrowHeads) {
        ctx.beginPath();
        for (let i = 0; i < 6; i += 2) ctx.lineTo(x.getPixelForValue(h[i]), y.getPixelForValue(h[i + 1]));
        ctx.closePath(); ctx.fill();
      }
    },
  };
  const countFont = `bold 23px ${SERIF}`;
  const nameFont = `bold 23px ${SERIF}`;
  const items: TextItem[] = [
    ...vennBCounts.map((t, i) => ({ t, x: vennBCountX[i], y: vennBCountY[i], f: countFont })),
    ...vennCCounts.map((t, i) => ({ t, x: vennCCountX[i], y: vennCCountY[i], f: `bold 25px ${SERIF}` })),
    { t: 'g12vsg0', x: 885, y: 229, f: nameFont }, { t: 'S12vsS0', x: 1051.8, y: 164, f: nameFont },
    { t: 'S24vsS0', x: 1293.3, y: 156, f: nameFont }, { t: 'g24vsg0', x: 1466.4, y: 209, f: nameFont },
    { t: 'total', x: 1688, y: 557, f: `bold 25px ${SERIF}` }, { t: 'g0vsS0', x: 2199, y: 476, f: `bold 25px ${SERIF}` },
    { t: 'up-regulated: 349', x: 2264.4, y: 140, f: `25px ${SANS}`, c: '#FF2020' },
    { t: 'down-regulated: 409', x: 2295.5, y: 603, f: `25px ${SANS}`, c: '#1CA9E0' },
    { t: 'Total DEGs： 6640', x: 1217, y: 696, f: `42px "Noto Sans CJK SC"` },
    { t: 'B', x: 839, y: 46, f: `53px ${SANS}` }, { t: 'C', x: 1631, y: 46, f: `53px ${SANS}` },
  ];
  return {
    type: 'scatter',
    data: {
      datasets: [
        { label: 'counts', data: [...vennBCountX.map((x, i) => ({ x, y: vennBCountY[i] })), ...vennCCountX.map((x, i) => ({ x, y: vennCCountY[i] }))], pointRadius: 0 },
        ...arrowShafts.map((a) => ({ data: [{ x: a[0], y: a[1] }, { x: a[2], y: a[3] }], showLine: true, pointRadius: 0, borderColor: '#000', borderWidth: 2 })),
      ],
    },
    options: {
      ...base,
      layout: { padding: 0 },
      plugins: { legend: { display: false }, tooltip: { enabled: false } },
      scales: {
        x: { type: 'linear', min: L, max: 2425, display: false },
        y: { type: 'linear', min: 0, max: 760, reverse: true, display: false },
      },
    },
    plugins: [sets, heads, textPlugin(items, 'x', 'y')],
  };
}

/* ---------- Panel D ---------- */
function makeColorBar() {
  return {
    type: 'bar',
    data: {
      labels: ['z'],
      datasets: [{
        data: [[2.033, -2.075]],
        barPercentage: 1, categoryPercentage: 1, borderWidth: 0,
        backgroundColor: (c: any) => {
          const a = c.chart.chartArea;
          if (!a) return '#fff';
          const g = c.chart.ctx.createLinearGradient(a.left, 0, a.right, 0);
          zStops.forEach(([v, col]) => g.addColorStop((2 - v) / 4, col));
          return g;
        },
      }],
    },
    options: {
      ...base,
      indexAxis: 'y',
      layout: { padding: { left: 14.2, right: 23.5, top: 0, bottom: 12 } },
      plugins: { legend: { display: false }, tooltip: { enabled: false } },
      scales: {
        x: {
          type: 'linear', position: 'top', reverse: true, min: -2.075, max: 2.033,
          grid: { display: false, drawTicks: false }, border: { display: false },
          ticks: { stepSize: 1, includeBounds: false, font: { family: SANS, size: 26 }, color: '#111', padding: 7, maxRotation: 0, autoSkip: false },
          afterFit: fixH(48),
        },
        y: { display: false },
      },
    },
  };
}

function makeHeat() {
  const LEFT = 180, TOP = 770, W = 860;
  const points: any[] = [];
  const colors: string[] = [];
  heatTable.forEach((col, j) => col.forEach((bands, c) => {
    const h = (clusterBottom[c] - clusterTop[c]) / bands.length;
    bands.forEach((v, b) => {
      points.push({ x: heatColumnX[j], y: [clusterTop[c] + b * h, clusterTop[c] + (b + 1) * h] });
      colors.push(rampColor(zStops, v));
    });
  }));
  const upY = (v: number) => 760 + v / 2.063;
  const lowY = (v: number) => 1500 + v / 2.099;
  const tree: any[] = [];
  const add = (list: number[][], conv: (v: number) => number) => list.forEach((b) => {
    tree.push({ x: b[2], y: conv(b[1]) }, { x: b[0], y: conv(b[1]) }, { x: b[0], y: conv(b[3]) }, { x: b[4], y: conv(b[3]) }, { x: NaN, y: NaN });
  });
  add(dendroUpper, upY);
  add(dendroLower, lowY);
  add(dendroRoot, upY);
  dendroRootStub.forEach((b) => tree.push({ x: b[0], y: upY(b[1]) }, { x: b[2], y: upY(b[1]) }, { x: NaN, y: NaN }));
  // every row of the leaf mass: a thin upper sliver starting at the read edge, and a thicker lower part starting further out
  const masses = leafEdges.map((edges, c) => {
    const h = (clusterBottom[c] - clusterTop[c]) / edges.length;
    const data: any[] = [];
    edges.forEach((e, i) => {
      const y = clusterTop[c] + (i + 0.25) * h;
      data.push({ x: e, y }, { x: 428, y }, { x: NaN, y: NaN });
      const y2 = clusterTop[c] + (i + 0.75) * h;
      data.push({ x: Math.min(e - 28, 362), y: y2 }, { x: 428, y: y2 }, { x: NaN, y: NaN });
    });
    return { type: 'scatter', xAxisID: 'xd', yAxisID: 'y', data, showLine: true, pointRadius: 0, borderColor: '#000', borderWidth: h / 2 + 0.2, borderCapStyle: 'butt' };
  });
  const items: TextItem[] = [
    ...heatColumns.map((t, j) => ({ t, x: heatColumnLabelX[j], y: 2200, f: `26px ${SANS}`, c: '#111' })),
    ...clusterLabelX.map((x, i) => ({ t: `Cluster ${i + 1}`, x, y: clusterLabelY[i], f: `27px ${SANS}`, c: '#222' })),
    { t: 'D', x: -2.75, y: 790, f: `53px ${SANS}` },
  ];
  return {
    type: 'bar',
    data: {
      datasets: [
        { type: 'bar', xAxisID: 'x', yAxisID: 'y', data: points, backgroundColor: colors, grouped: false, barPercentage: 1, categoryPercentage: 1, borderWidth: 0 },
        { type: 'scatter', xAxisID: 'xd', yAxisID: 'y', data: tree, showLine: true, pointRadius: 0, borderColor: '#000', borderWidth: 2.6 },
        ...masses,
      ],
    },
    options: {
      ...base,
      layout: { padding: 0 },
      plugins: { legend: { display: false }, tooltip: { enabled: false } },
      scales: {
        x: { type: 'linear', offset: false, min: (LEFT - 414.8) / 72.4, max: (LEFT + W - 414.8) / 72.4, display: false },
        xd: { type: 'linear', axis: 'x', offset: false, min: 0, max: W * 1.823, display: false },
        y: { type: 'linear', min: TOP, max: 2247, reverse: true, display: false },
      },
    },
    plugins: [textPlugin(items, 'x', 'y')],
  };
}

/* ---------- Panel E ---------- */
function makeDots() {
  const datasets = clusterTicks.map((tick, col) => {
    const data: any[] = [];
    const colors: string[] = [];
    ratioTable[col].forEach((r, row) => {
      if (r === null) return;
      data.push({ x: col, y: row, r: ratioRadius(r) });
      colors.push(rampColor(padjStops, padjTable[col][row] as number));
    });
    return { label: tick[0], data, backgroundColor: colors, borderWidth: 0 };
  });
  const font = { family: SERIF, size: 27, weight: 'bold' as const, lineHeight: 1.1 };
  const grid = { color: '#EBEBEB', lineWidth: 3, tickColor: '#333', tickWidth: 3, tickLength: 10 };
  const frame = {
    id: 'frame',
    afterDatasetsDraw(chart: any) {
      const a = chart.chartArea; const ctx = chart.ctx;
      ctx.strokeStyle = '#333'; ctx.lineWidth = 2;
      ctx.strokeRect(a.left, a.top, a.right - a.left, a.bottom - a.top);
    },
  };
  return {
    type: 'bubble',
    data: { datasets },
    options: {
      ...base,
      layout: { padding: { top: 14, right: 44, left: 0, bottom: 0 } },
      plugins: { legend: { display: false }, tooltip: { enabled: false } },
      scales: {
        x: {
          type: 'linear', min: -0.6, max: 3.6, grid, border: { display: false },
          ticks: { stepSize: 1, includeBounds: false, callback: (v: any) => clusterTicks[v], font, color: '#000', padding: 4, maxRotation: 0, minRotation: 0, autoSkip: false },
          title: { display: true, text: 'Cluster', font: { family: SERIF, size: 27, weight: 'bold' }, color: '#000', padding: { top: 0, bottom: 13 } },
          afterFit: fixH(121.5),
        },
        y: {
          type: 'linear', min: -0.6, max: 25.6, reverse: true, grid, border: { display: false },
          ticks: { stepSize: 1, includeBounds: false, callback: (v: any) => goTerms[v], font, color: '#000', padding: 8, labelOffset: 3, autoSkip: false },
          afterFit: fixW(544.6),
        },
      },
    },
    plugins: [frame, textPlugin([{ t: 'E', x: 1226, y: 791.5, f: `53px ${SANS}` }], undefined, undefined, 1200, 770)],
  };
}

function makeRatioLegend() {
  const L = 2060, T = 1170;
  const items: TextItem[] = [
    { t: 'GeneRatio', x: 2073, y: 1200, f: `bold 27px ${SERIF}`, a: 'left' },
    ...ratioLegend.map((r, i) => ({ t: r.toFixed(2), x: 2134.7, y: 1248.5 + i * 49.05, f: `bold 21px ${SERIF}`, a: 'left' as CanvasTextAlign })),
  ];
  return {
    type: 'bubble',
    data: { datasets: [{ data: ratioLegend.map((r, i) => ({ x: 0, y: i, r: ratioRadius(r) })), backgroundColor: '#000', borderWidth: 0 }] },
    options: {
      ...base,
      layout: { padding: 0 },
      plugins: { legend: { display: false }, tooltip: { enabled: false } },
      scales: {
        x: { type: 'linear', min: -36.8, max: 143.2, display: false },
        y: { type: 'linear', min: -1.6, max: 2.68, reverse: true, display: false },
      },
    },
    plugins: [textPlugin(items, undefined, undefined, L, T)],
  };
}

function makePadjLegend() {
  const L = 2060, T = 1440;
  const whiteTicks = {
    id: 'whiteTicks',
    afterDatasetsDraw(chart: any) {
      const a = chart.chartArea; const ctx = chart.ctx; const y = chart.scales.y;
      ctx.strokeStyle = '#fff'; ctx.lineWidth = 1.5;
      y.ticks.forEach((t: any) => {
        if (t.value === 0) return;
        const p = y.getPixelForValue(t.value);
        ctx.beginPath(); ctx.moveTo(a.left, p); ctx.lineTo(a.left + 9, p); ctx.moveTo(a.right - 9, p); ctx.lineTo(a.right, p); ctx.stroke();
      });
    },
  };
  return {
    type: 'bar',
    data: {
      labels: ['p'],
      datasets: [{
        data: [[0, 0.0453]], barPercentage: 1, categoryPercentage: 1, borderWidth: 0,
        backgroundColor: (c: any) => {
          const a = c.chart.chartArea;
          if (!a) return '#fff';
          const g = c.chart.ctx.createLinearGradient(0, a.bottom, 0, a.top);
          padjStops.forEach(([v, col]) => g.addColorStop(v / 0.0453, col));
          return g;
        },
      }],
    },
    options: {
      ...base,
      layout: { padding: { left: 13, top: 42.5, bottom: 16, right: 0 } },
      plugins: { legend: { display: false }, tooltip: { enabled: false } },
      scales: {
        x: { display: false },
        y: {
          type: 'linear', position: 'right', min: 0, max: 0.0453,
          grid: { display: false, drawTicks: false }, border: { display: false },
          ticks: { stepSize: 0.01, includeBounds: false, callback: (v: any) => (v === 0 ? '' : Number(v).toFixed(2)), font: { family: SERIF, size: 21, weight: 'bold' }, color: '#000', padding: 13, autoSkip: false },
          afterFit: fixW(118.6),
        },
      },
    },
    plugins: [whiteTicks, textPlugin([{ t: 'p.adjust', x: 2073, y: 1458, f: `bold 26px ${SERIF}`, a: 'left' }], undefined, undefined, L, T)],
  };
}

export default function App() {
  return (
    <div style={{ position: 'absolute', left: 0, top: 0, width: 2425, height: 2247, background: '#fff', overflow: 'hidden', filter: 'blur(0.6px)' }}>
      <ChartBox left={0} top={0} width={800} height={780} make={makePca} />
      <ChartBox left={800} top={0} width={1625} height={760} make={makeVenn} />
      <ChartBox left={180} top={770} width={860} height={1477} make={makeHeat} />
      <ChartBox left={400} top={810} width={640} height={100} make={makeColorBar} />
      <ChartBox left={1200} top={770} width={860} height={1477} make={makeDots} />
      <ChartBox left={2060} top={1170} width={180} height={210} make={makeRatioLegend} />
      <ChartBox left={2060} top={1440} width={180} height={300} make={makePadjLegend} />
    </div>
  );
}
